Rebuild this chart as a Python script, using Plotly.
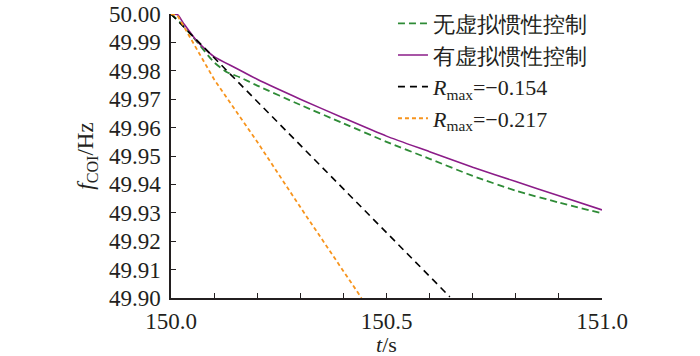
import plotly.graph_objects as go

# ---- data ----
t_green = [150.0, 150.02, 150.05, 150.1, 150.13, 150.16, 150.2, 150.3, 150.4, 150.5, 150.6, 150.7, 150.8, 150.9, 151.0]
f_green = [50.0, 49.9972, 49.9921, 49.983, 49.9795, 49.9777, 49.9748, 49.968, 49.9615, 49.955, 49.949, 49.943, 49.9378, 49.9336, 49.9298]

t_purple = [150.0, 150.015, 150.03, 150.06, 150.1, 150.15, 150.2, 150.3, 150.4, 150.5, 150.6, 150.7, 150.8, 150.9, 151.0]
f_purple = [50.0, 49.9998, 49.9965, 49.9905, 49.985, 49.981, 49.977, 49.970, 49.9634, 49.957, 49.9515, 49.946, 49.941, 49.936, 49.931]

t_black = [150.0, 150.1, 150.2, 150.3, 150.4, 150.5, 150.6, 150.647]
f_black = [50.0, 49.9846, 49.9692, 49.9538, 49.9384, 49.923, 49.9076, 49.9004]

t_orange = [150.0, 150.015, 150.1, 150.2, 150.3, 150.442]
f_orange = [50.0, 49.9995, 49.977, 49.955, 49.932, 49.900]

names = ["无虚拟惯性控制", "有虚拟惯性控制",
         "<i>R</i><sub>max</sub>=−0.154", "<i>R</i><sub>max</sub>=−0.217"]

x_tickvals = [150.0, 150.1, 150.2, 150.3, 150.4, 150.5, 150.6, 150.7, 150.8, 150.9, 151.0]
x_ticktext = ["150.0", "", "", "", "", "150.5", "", "", "", "", "151.0"]
y_tickvals = [49.90, 49.91, 49.92, 49.93, 49.94, 49.95, 49.96, 49.97, 49.98, 49.99, 50.00]
x_title = "<i>t</i>/s"
y_title = "<i>f</i><sub>COI</sub>/Hz"

# ---- figure ----
TXT = "#231f20"
FONT = "Liberation Serif"

fig = go.Figure()
fig.add_trace(go.Scatter(x=t_green, y=f_green, mode="lines", name=names[0],
                         line=dict(color="#2e8b36", width=1.8, dash="7px,4px", shape="spline", smoothing=0.6)))
fig.add_trace(go.Scatter(x=t_purple, y=f_purple, mode="lines", name=names[1],
                         line=dict(color="#8b1c88", width=1.6, shape="spline", smoothing=0.6)))
fig.add_trace(go.Scatter(x=t_black, y=f_black, mode="lines", name=names[2],
                         line=dict(color="#000000", width=1.6, dash="7px,5px")))
fig.add_trace(go.Scatter(x=t_orange, y=f_orange, mode="lines", name=names[3],
                         line=dict(color="#f7941d", width=1.8, dash="4px,3px")))

fig.update_layout(
    width=700, height=356,
    margin=dict(l=171, r=98, t=14, b=58, autoexpand=False),
    paper_bgcolor="white", plot_bgcolor="white",
    font=dict(family=FONT, size=23, color=TXT),
    showlegend=True,
    legend=dict(x=0.515, y=1.04, xanchor="left", yanchor="top",
                bgcolor="rgba(0,0,0,0)", itemwidth=30,
                font=dict(family="Liberation Serif", size=22, color=TXT),
                tracegroupgap=0),
    xaxis=dict(range=[150.0, 151.0], tickvals=x_tickvals, ticktext=x_ticktext,
               ticks="inside", ticklen=5, tickwidth=1.2, tickcolor=TXT, automargin=False,
               showline=True, linecolor=TXT, linewidth=1.5, showgrid=False, zeroline=False,
               ticklabelstandoff=2, ticklabeloverflow="allow",
               tickfont=dict(family=FONT, size=23, color=TXT)),
    yaxis=dict(range=[49.90, 50.00], tickvals=y_tickvals, tickformat=".2f",
               ticks="inside", ticklen=5, tickwidth=1.2, tickcolor=TXT, automargin=False,
               showline=True, linecolor=TXT, linewidth=1.5, showgrid=False, zeroline=False,
               ticklabelstandoff=4, ticklabeloverflow="allow",
               tickfont=dict(family=FONT, size=23, color=TXT),
               title=dict(text=y_title, standoff=9, font=dict(family=FONT, size=23, color=TXT))),
    annotations=[dict(text=x_title, xref="paper", yref="paper", x=0.5, y=-0.164,
                      xanchor="center", yanchor="middle", showarrow=False,
                      font=dict(family=FONT, size=22, color=TXT))],
)

fig.write_html("out.html", config={"displayModeBar": False},
               post_script="document.body.style.margin='0';document.body.style.overflow='hidden';")
